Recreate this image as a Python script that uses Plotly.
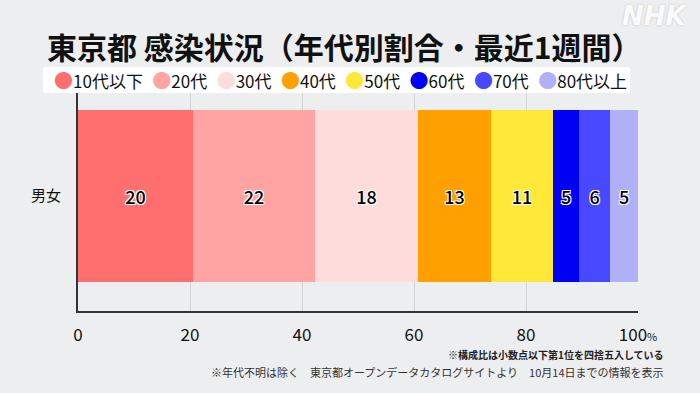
import plotly.graph_objects as go

categories = ["男女"]
age_groups = ["10代以下", "20代", "30代", "40代", "50代", "60代", "70代", "80代以上"]
shares = [20.5, 21.9, 18.3, 13.1, 11.0, 4.7, 5.5, 5.0]
share_labels = ["20", "22", "18", "13", "11", "5", "6", "5"]
colors = ["#FF6F6F", "#FFA3A3", "#FFDCDC", "#FFA000", "#FFE838", "#0000F2", "#4848FF", "#B0B0F8"]
x_tickvals = [0, 20, 40, 60, 80, 100]
x_ticktext = ["0", "20", "40", "60", "80", "100<span style='font-size:11px'>%</span>"]

FONT = "Noto Sans CJK JP"
BG = "#EDEEF0"

fig = go.Figure()
outline = "-1px -1px 0 #fff, 1px -1px 0 #fff, -1px 1px 0 #fff, 1px 1px 0 #fff"
for name, val, lab, col in zip(age_groups, shares, share_labels, colors):
    fig.add_trace(go.Bar(
        y=categories, x=[val], name=name, orientation="h",
        marker=dict(color=col, line=dict(width=0)),
        text=[lab], textposition="inside", insidetextanchor="middle",
        textangle=0,
        textfont=dict(family=FONT, size=18, color="#000", weight=500, shadow=outline),
        width=0.771, showlegend=False, hoverinfo="skip",
    ))

# legend as a single annotation line with coloured dots
parts = []
for name, col in zip(age_groups, colors):
    parts.append(f"<span style='color:{col};font-size:19px'>●</span>{name}")
legend_text = "<span style='font-size:14px'>\u00a0\u00a0\u00a0</span>".join(parts)

fig.add_shape(type="rect", xref="paper", yref="paper",
              x0=(43 - 78) / 560, x1=(630 - 78) / 560,
              y0=(311 - 93) / 223, y1=(311 - 67) / 223,
              fillcolor="white", line=dict(width=0), layer="above")
fig.add_annotation(text=legend_text, xref="paper", yref="paper",
                   x=(340 - 78) / 560, y=(311 - 80) / 223,
                   xanchor="center", yanchor="middle", showarrow=False,
                   font=dict(family=FONT, size=17, color="#111"))

fig.add_annotation(text="<b>東京都 感染状況（年代別割合・最近1週間）</b>",
                   xref="paper", yref="paper", x=(344 - 78) / 560, y=(311 - 46) / 223,
                   xanchor="center", yanchor="middle", showarrow=False,
                   font=dict(family=FONT, size=30, color="#111"))

fig.add_annotation(text="<b>NHK</b>", xref="paper", yref="paper",
                   x=(690 - 78) / 560, y=(311 - 16) / 223,
                   xanchor="right", yanchor="middle", showarrow=False,
                   font=dict(family="DejaVu Sans", size=26, color="rgba(255,255,255,0.95)",
                             style="italic", shadow="0 0 2px #b8b8b8"))

fig.add_annotation(text="<b>※構成比は小数点以下第1位を四捨五入している</b>",
                   xref="paper", yref="paper", x=(666 - 78) / 560, y=(311 - 354) / 223,
                   xanchor="right", yanchor="middle", showarrow=False,
                   font=dict(family=FONT, size=10, color="#222"))
fig.add_annotation(text="※年代不明は除く　東京都オープンデータカタログサイトより　10月14日までの情報を表示",
                   xref="paper", yref="paper", x=(666 - 78) / 560, y=(311 - 372) / 223,
                   xanchor="right", yanchor="middle", showarrow=False,
                   font=dict(family=FONT, size=11, color="#333"))

fig.update_layout(
    width=700, height=393,
    margin=dict(l=78, r=62, t=88, b=82),
    paper_bgcolor=BG, plot_bgcolor=BG,
    barmode="stack", bargap=0,
    showlegend=False,
    font=dict(family=FONT, color="#111"),
    xaxis=dict(range=[0, 100], tickvals=x_tickvals, ticktext=x_ticktext,
               showgrid=True, gridcolor="#D4D5D8", gridwidth=1,
               showline=True, linecolor="#333", linewidth=2,
               zeroline=False, ticks="", tickfont=dict(family=FONT, size=17, color="#111"),
               ticklabelstandoff=8, fixedrange=True),
    yaxis=dict(range=[-0.516, 0.484], showline=True, linecolor="#333", linewidth=2,
               ticks="", tickfont=dict(family=FONT, size=15, color="#111"),
               ticklabelstandoff=12, showgrid=False, zeroline=False, fixedrange=True),
)

fig.write_html("out.html", config={"displayModeBar": False},
               post_script="document.body.style.margin='0';document.body.style.overflow='hidden';")
